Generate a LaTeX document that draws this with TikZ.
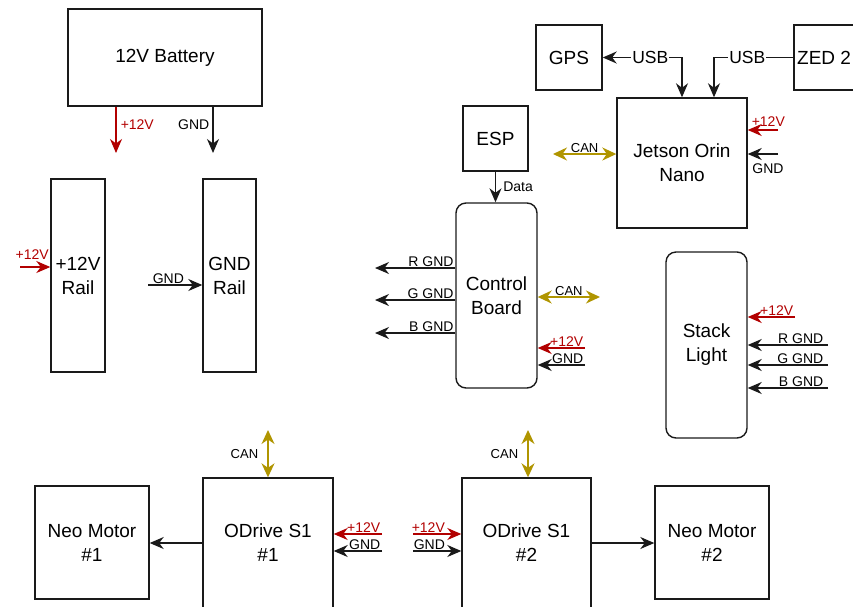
\documentclass[tikz,border=0pt]{standalone}
\usepackage{fontspec}
\setmainfont{Liberation Sans}
\usetikzlibrary{arrows.meta}
\definecolor{pred}{HTML}{B20000}
\definecolor{cgold}{HTML}{B09500}
\definecolor{lc}{HTML}{1A1A1A}
\begin{document}
\begin{tikzpicture}[x=1pt,y=-1pt,
  box/.style={draw=lc, line width=1.4pt, align=center, font=\fontsize{19}{24}\selectfont, inner sep=0pt},
  rbox/.style={box, rounded corners=10pt},
  wire/.style={line width=1.5pt, draw=lc},
  tip/.style={-{Stealth[length=14pt,width=12pt,inset=4.5pt]}},
  pwr/.style={wire, draw=pred, tip},
  gnd/.style={wire, tip},
  canw/.style={line width=1.7pt, draw=cgold, {Stealth[length=14pt,width=13pt,inset=4.5pt]}-{Stealth[length=14pt,width=13pt,inset=4.5pt]}},
  usbw/.style={wire},
  lbl/.style={font=\fontsize{14}{16}\selectfont, inner sep=1pt},
  canl/.style={font=\fontsize{13}{15}\selectfont, inner sep=1pt},
  usbl/.style={font=\fontsize{17.5}{20}\selectfont, inner sep=1pt, fill=white},
]
\useasboundingbox (0,0) rectangle (853,606);

% boxes
\node[box, minimum width=194pt, minimum height=97pt] (bat) at (165,57.5) {12V Battery};
\node[box, minimum width=54pt, minimum height=193pt] (rail12) at (78,275.5) {+12V\\Rail};
\node[box, minimum width=53pt, minimum height=193pt] (railg) at (229.5,275.5) {GND\\Rail};
\node[box, minimum width=66pt, minimum height=65pt] (gps) at (569,57.5) {GPS};
\node[box, minimum width=106pt, minimum height=65pt] (zed) at (847,57.5) {};
\node[anchor=west, inner sep=0pt, font=\fontsize{19}{24}\selectfont] (zedt) at (797,57.5) {ZED 2};
\node[box, minimum width=130pt, minimum height=130pt] (jet) at (682,163) {Jetson Orin\\Nano};
\node[box, minimum width=65pt, minimum height=65pt] (esp) at (495.5,138.5) {ESP};
\node[rbox, minimum width=81pt, minimum height=185pt] (cb) at (496.5,295.5) {Control\\Board};
\node[rbox, minimum width=81pt, minimum height=186pt] (sl) at (706.5,345) {Stack\\Light};
\node[box, minimum width=130pt, minimum height=130pt] (od1) at (268,543) {ODrive S1\\\#1};
\node[box, minimum width=129pt, minimum height=130pt] (od2) at (526.5,543) {ODrive S1\\\#2};
\node[box, minimum width=114pt, minimum height=113pt] (neo1) at (92,542.5) {Neo Motor\\\#1};
\node[box, minimum width=114pt, minimum height=113pt] (neo2) at (712,542.5) {Neo Motor\\\#2};

% free ends
\coordinate (b12) at (116,153);
\coordinate (bg) at (213,153);
\coordinate (r12) at (20,267);
\coordinate (rg) at (148,285);
\coordinate (j12) at (778,130);
\coordinate (jg) at (778,154);
\coordinate (jcan) at (553,154);
\coordinate (cbr) at (375,268);
\coordinate (cbgg) at (375,300);
\coordinate (cbb) at (375,333);
\coordinate (cbcan) at (600,297);
\coordinate (cb12) at (585,348);
\coordinate (cbg) at (585,365);
\coordinate (sl12) at (795,317);
\coordinate (slr) at (828,345);
\coordinate (slg) at (828,365);
\coordinate (slb) at (828,388);
\coordinate (o1can) at (268,430);
\coordinate (o2can) at (528,430);
\coordinate (o112) at (382,534);
\coordinate (o1g) at (382,551);
\coordinate (o212) at (413,534);
\coordinate (o2g) at (413,551);

% battery
\draw[pwr] (bat.south -| b12) -- node[lbl, right, text=pred, pos=0.38, xshift=3pt] {+12V} (b12);
\draw[gnd] (bat.south -| bg) -- node[lbl, left, pos=0.38, xshift=-2pt] {GND} (bg);

% rails
\draw[pwr] (r12) -- node[lbl, pos=0, anchor=south west, xshift=-6pt, yshift=6pt, text=pred] {+12V} (r12 -| rail12.west);
\draw[gnd] (rg) -- node[lbl, pos=0, anchor=south west, xshift=3pt] {GND} (rg -| railg.west);

% USB
\draw[usbw, {Stealth[length=14pt,width=12pt,inset=4.5pt]}-{Stealth[length=14pt,width=12pt,inset=4.5pt]}] (gps.east) -| node[usbl, pos=0.3] {USB} (jet.north);
\draw[usbw, tip] (zed.west |- zedt) -| node[usbl, pos=0.29] {USB} ([xshift=32pt]jet.north);

% Jetson
\draw[pwr] (j12) -- node[lbl, pos=0.32, above, yshift=2pt, text=pred] {+12V} (j12 -| jet.east);
\draw[gnd] (jg) -- node[lbl, pos=0.33, below, yshift=-8pt] {GND} (jg -| jet.east);
\draw[canw] (jcan) -- node[canl, midway, above] {CAN} (jcan -| jet.west);

% ESP -> Control board
\draw[gnd] (esp.south) -- node[lbl, right, pos=0.5, xshift=6pt] {Data} (esp.south |- cb.north);

% control board
\draw[gnd] (cb.west |- cbr) -- node[lbl, pos=0, anchor=south east] {R GND} (cbr);
\draw[gnd] (cb.west |- cbgg) -- node[lbl, pos=0, anchor=south east] {G GND} (cbgg);
\draw[gnd] (cb.west |- cbb) -- node[lbl, pos=0, anchor=south east] {B GND} (cbb);
\draw[canw] (cb.east |- cbcan) -- node[canl, midway, above] {CAN} (cbcan);
\draw[pwr] (cb12) -- node[lbl, pos=0, anchor=south east, text=pred] {+12V} (cb12 -| cb.east);
\draw[gnd] (cbg) -- node[lbl, pos=0, anchor=south east] {GND} (cbg -| cb.east);

% stack light
\draw[pwr] (sl12) -- node[lbl, pos=0, anchor=south east, text=pred] {+12V} (sl12 -| sl.east);
\draw[gnd] (slr) -- node[lbl, pos=0, anchor=south east, xshift=-3pt] {R GND} (slr -| sl.east);
\draw[gnd] (slg) -- node[lbl, pos=0, anchor=south east, xshift=-3pt] {G GND} (slg -| sl.east);
\draw[gnd] (slb) -- node[lbl, pos=0, anchor=south east, xshift=-3pt] {B GND} (slb -| sl.east);

% ODrives
\draw[canw] (o1can) -- node[canl, midway, left, xshift=-8pt] {CAN} (od1.north);
\draw[canw] (o2can) -- node[canl, midway, left, xshift=-8pt] {CAN} (o2can |- od2.north);
\draw[pwr] (o112) -- node[lbl, pos=0, anchor=south east, text=pred] {+12V} (o112 -| od1.east);
\draw[gnd] (o1g) -- node[lbl, pos=0, anchor=south east] {GND} (o1g -| od1.east);
\draw[pwr] (o212) -- node[lbl, pos=0, anchor=south west, xshift=-3pt, text=pred] {+12V} (o212 -| od2.west);
\draw[gnd] (o2g) -- node[lbl, pos=0, anchor=south west, xshift=-1pt] {GND} (o2g -| od2.west);

% motors
\draw[gnd] (od1.west) -- (od1.west -| neo1.east);
\draw[gnd] (od2.east) -- (od2.east -| neo2.west);
\end{tikzpicture}
\end{document}
